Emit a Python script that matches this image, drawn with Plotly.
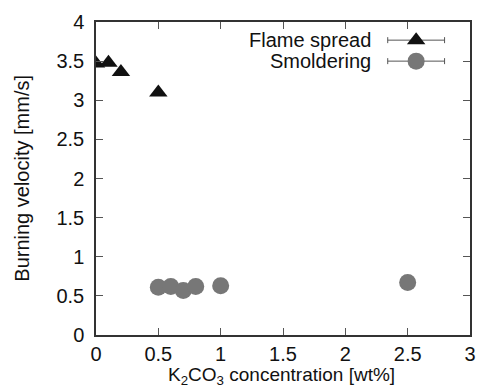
import plotly.graph_objects as go

# Data
flame_x = [0.0, 0.1, 0.2, 0.5]
flame_y = [3.47, 3.48, 3.36, 3.10]
smolder_x = [0.5, 0.6, 0.7, 0.8, 1.0, 2.5]
smolder_y = [0.61, 0.62, 0.57, 0.62, 0.63, 0.67]
x_ticks = [0, 0.5, 1, 1.5, 2, 2.5, 3]
y_ticks = [0, 0.5, 1, 1.5, 2, 2.5, 3, 3.5, 4]
series_names = ["Flame spread", "Smoldering"]
x_title = "K<sub>2</sub>CO<sub>3</sub> concentration [wt%]"
y_title = "Burning velocity [mm/s]"

FONT = "Liberation Sans, Arial, sans-serif"
FS = 20
TRI_COLOR = "#111111"
CIR_COLOR = "#777777"

fig = go.Figure()
fig.add_trace(go.Scatter(x=flame_x, y=flame_y, mode="markers",
                         marker=dict(symbol="triangle-up", size=16, color=TRI_COLOR),
                         showlegend=False))
fig.add_trace(go.Scatter(x=smolder_x, y=smolder_y, mode="markers",
                         marker=dict(symbol="circle", size=17, color=CIR_COLOR),
                         showlegend=False))

# Custom legend (gnuplot style with error bar key) on overlay axes
leg_x = 0.856
leg_half = 0.076
leg_rows = [0.942, 0.875]
symbols = [("triangle-up", 16, TRI_COLOR), ("circle", 17, CIR_COLOR)]
for name, yy, (sym, sz, col) in zip(series_names, leg_rows, symbols):
    fig.add_trace(go.Scatter(x=[leg_x], y=[yy], xaxis="x2", yaxis="y2", mode="markers",
                             marker=dict(symbol=sym, size=sz, color=col),
                             error_x=dict(type="constant", value=leg_half, color="#555555",
                                          thickness=1, width=3),
                             showlegend=False, hoverinfo="skip"))
    fig.add_annotation(x=0.741, y=yy, xref="x2", yref="y2", text=name, showarrow=False,
                       xanchor="right", yanchor="middle",
                       font=dict(family=FONT, size=FS, color="#111111"))

# Axis titles as annotations for exact placement
fig.add_annotation(x=0.497, y=-0.132, xref="paper", yref="paper", text=x_title,
                   showarrow=False, xanchor="center", yanchor="middle",
                   font=dict(family=FONT, size=19, color="#111111"))
fig.add_annotation(x=-0.2, y=0.5, xref="paper", yref="paper", text=y_title,
                   showarrow=False, xanchor="center", yanchor="middle", textangle=-90,
                   font=dict(family=FONT, size=FS, color="#111111"))

axis_common = dict(showgrid=False, zeroline=False, ticks="inside", ticklen=7,
                   tickcolor="#555555", tickwidth=1, showline=True, linecolor="#333333",
                   linewidth=1.5, mirror="ticks", automargin=False,
                   tickfont=dict(family=FONT, size=FS, color="#111111"))

fig.update_layout(
    width=484, height=388,
    margin=dict(l=96, r=14, t=22, b=53),
    paper_bgcolor="white", plot_bgcolor="white",
    xaxis=dict(range=[0, 3], tickvals=x_ticks, ticktext=[f"{v:g}" for v in x_ticks],
               ticklabelstandoff=0, **axis_common),
    yaxis=dict(range=[0, 4], tickvals=y_ticks, ticktext=[f"{v:g}" for v in y_ticks],
               ticklabelstandoff=6, **axis_common),
    xaxis2=dict(overlaying="x", range=[0, 1], visible=False),
    yaxis2=dict(overlaying="y", range=[0, 1], visible=False),
)

fig.write_html("out.html")
